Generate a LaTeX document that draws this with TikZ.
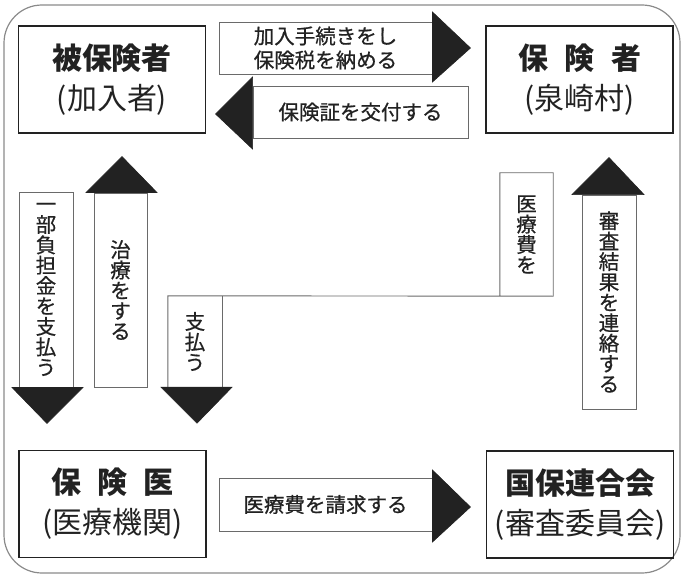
\documentclass[tikz,border=0pt]{standalone}
\usepackage{fontspec}
\setmainfont{Noto Sans CJK JP}
\newfontfamily\lblfont[FakeBold=0.7]{Noto Sans CJK JP}
\usetikzlibrary{calc}
\definecolor{ink}{HTML}{222222}
\definecolor{rim}{HTML}{8A8A8A}
\definecolor{edge}{HTML}{6A6A6A}
\begin{document}
\begin{tikzpicture}[x=1pt,y=-1pt,
  box/.style={draw=ink,line width=1.4pt,inner sep=0pt,minimum width=187pt,minimum height=107pt,align=center,text=ink,font=\fontsize{30}{40}\selectfont},
  lbl/.style={draw=edge,line width=0.9pt,inner sep=0pt,align=center,text=ink,font=\lblfont\fontsize{20.5}{24}\selectfont},
  vlbl/.style={draw=edge,line width=0.9pt,inner sep=0pt,align=center,text=ink,font=\lblfont\fontsize{20.5}{20.4}\selectfont},
  vtxt/.style={inner sep=0pt,align=center,text=ink,font=\lblfont\fontsize{20.5}{20.4}\selectfont},
  head/.style={fill=ink,draw=ink,line width=0.6pt,line join=miter}]
\useasboundingbox (0,0) rectangle (683,575);
\draw[rim,line width=1.2pt,rounded corners=38pt] (4,5) rectangle (680,573);
% boxes
\node[box] (ins) at (112,79.5) {{\bfseries 被保険者}\\(加入者)};
\node[box] (insr) at (579.5,79.5) {{\bfseries 保\hspace{0.55em}険\hspace{0.55em}者}\\(泉崎村)};
\node[box] (doc) at (112.5,504) {{\bfseries 保\hspace{0.55em}険\hspace{0.55em}医}\\(医療機関)};
\node[box] (fed) at (580,504.5) {{\bfseries 国保連合会}\\(審査委員会)};
% top arrows
\node[lbl,minimum width=213pt,minimum height=52pt] (a1) at (325.5,48) {加入手続きをし\\保険税を納める};
\fill[head] ($(a1.east)+(0,-36)$) -- ($(a1.east)+(38,0)$) -- ($(a1.east)+(0,34)$) -- cycle;
\node[lbl,minimum width=215pt,minimum height=52pt] (a2) at (360.5,112) {保険証を交付する};
\fill[head] ($(a2.west)+(0,-35)$) -- ($(a2.west)+(-37,2)$) -- ($(a2.west)+(0,37)$) -- cycle;
% bottom arrow
\node[lbl,minimum width=213pt,minimum height=53pt] (a3) at (325.5,504.5) {医療費を請求する};
\fill[head] ($(a3.east)+(0,-34.5)$) -- ($(a3.east)+(38,2.5)$) -- ($(a3.east)+(0,37.5)$) -- cycle;
% left vertical arrows
\node[vlbl,minimum width=54pt,minimum height=195pt] (a4) at (46,289.5) {一\\部\\負\\担\\金\\を\\支\\払\\う};
\fill[head] ($(a4.south)+(-34,0)$) -- ($(a4.south)+(1,36)$) -- ($(a4.south)+(37,0)$) -- cycle;
\node[vlbl,minimum width=53pt,minimum height=194pt] (a5) at (120.5,290) {治\\療\\を\\す\\る};
\fill[head] ($(a5.north)+(-34.5,0)$) -- ($(a5.north)+(1.5,-36)$) -- ($(a5.north)+(36.5,0)$) -- cycle;
% payment z-shaped arrow
\node[vtxt,minimum width=54pt,minimum height=91pt] (p1) at (195,341.5) {支\\払\\う};
\node[vtxt,minimum width=53pt,minimum height=123pt] (p2) at (526.5,234.5) {医\\療\\費\\を};
\draw[edge,line width=0.9pt] (p2.south west) -- (p2.north west) -- (p2.north east) -- (p2.south east) -- (p1.north west) -- (p1.south west);
\draw[edge,line width=0.9pt] (p1.north east) -- (p1.south east);
\fill[head] ($(p1.south)+(-34,0)$) -- ($(p1.south)+(2,36)$) -- ($(p1.south)+(37,0)$) -- cycle;
% right vertical arrow
\node[vlbl,minimum width=54pt,minimum height=214pt] (a6) at (609,302) {審\\査\\結\\果\\を\\連\\絡\\す\\る};
\fill[head] ($(a6.north)+(-37,0)$) -- ($(a6.north)+(0,-37)$) -- ($(a6.north)+(35,0)$) -- cycle;
\end{tikzpicture}
\end{document}
